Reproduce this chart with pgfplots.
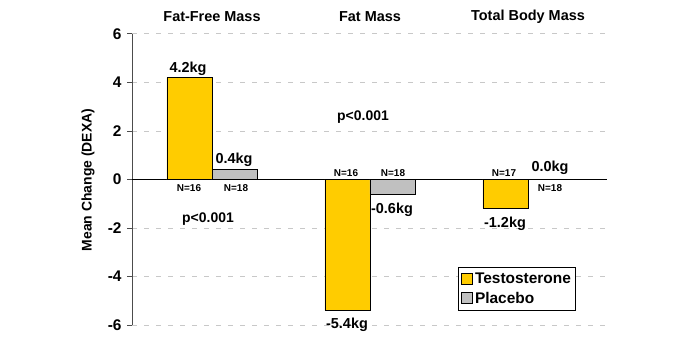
\documentclass[border=0pt]{standalone}
\usepackage{pgfplots}
\pgfplotsset{compat=1.18}
\usepackage{fontspec}
\setmainfont{Liberation Sans}
\definecolor{tyellow}{HTML}{FFCC00}
\definecolor{pgray}{HTML}{C0C0C0}
\definecolor{gridgray}{HTML}{C8C8C8}
\newcommand{\fs}[1]{\fontsize{#1}{#1}\selectfont\bfseries}
\begin{document}
\begin{tikzpicture}[x=1bp,y=1bp]
\path[use as bounding box] (0,0) rectangle (690,350);
\begin{axis}[
  at={(132bp,25bp)}, anchor=south west,
  scale only axis, width=475bp, height=291bp,
  xmin=-0.506, xmax=2.5, ymin=-6, ymax=6,
  axis y line*=left, axis x line=none,
  ytick={-6,-4,-2,2,4,6},
  extra y ticks={0},
  extra y tick style={grid style={solid, black, line width=0.9bp}},
  ymajorgrids,
  grid style={gridgray, dash pattern=on 5bp off 7bp, line width=1bp},
  tick align=outside, major tick length=5bp,
  y tick style={gray!60!black, line width=1bp},
  axis line style={gray!60!black, line width=1bp},
  yticklabel style={font=\fs{15.5}, xshift=-2bp},
  /pgf/number format/assume math mode=true,
  ybar, bar width=0.285, bar shift=0pt,
  legend style={at={(0.686,0.199)}, anchor=north west, draw=black, line width=0.8bp,
    font=\fs{15.5}, inner xsep=3bp, inner ysep=3.5bp, row sep=3bp, cells={anchor=west}},
  legend image code/.code={\draw[#1, draw=black, line width=0.8bp] (0bp,-5bp) rectangle (11bp,6bp);},
]
\addplot[fill=tyellow, draw=black, line width=0.8bp] coordinates {(-0.1425,4.2) (0.8575,-5.4) (1.8575,-1.2)};
\addplot[fill=pgray, draw=black, line width=0.8bp] coordinates {(0.1425,0.4) (1.1425,-0.6) (2.1425,0.0)};
\legend{Testosterone, Placebo}
\end{axis}
% titles
\node[font=\fs{14.5}] at (212,333) {Fat-Free Mass};
\node[font=\fs{14.5}] at (370,333) {Fat Mass};
\node[font=\fs{14.5}] at (528,333) {Total Body Mass};
% y label
\node[font=\fs{14}, rotate=90] at (88,170) {Mean Change (DEXA)};
% value labels
\node[font=\fs{14.5}, anchor=base, inner sep=0] at (188,278) {4.2kg};
\node[font=\fs{14.5}, anchor=base, inner sep=0] at (234,187) {0.4kg};
\node[font=\fs{14.5}, anchor=base, inner sep=0] at (347,22) {-5.4kg};
\node[font=\fs{14.5}, anchor=base, inner sep=0] at (392,137) {-0.6kg};
\node[font=\fs{14.5}, anchor=base, inner sep=0] at (505,123) {-1.2kg};
\node[font=\fs{14.5}, anchor=base, inner sep=0] at (550,179) {0.0kg};
% N labels
\node[font=\fs{10}, anchor=base, inner sep=0] at (189,159) {N=16};
\node[font=\fs{10}, anchor=base, inner sep=0] at (236,159) {N=18};
\node[font=\fs{10}, anchor=base, inner sep=0] at (346,174) {N=16};
\node[font=\fs{10}, anchor=base, inner sep=0] at (393,174) {N=18};
\node[font=\fs{10}, anchor=base, inner sep=0] at (504,174) {N=17};
\node[font=\fs{10}, anchor=base, inner sep=0] at (550,159) {N=18};
% p values
\node[font=\fs{14}, anchor=base, inner sep=0] at (208,128) {p<0.001};
\node[font=\fs{14}, anchor=base, inner sep=0] at (363,230) {p<0.001};
\end{tikzpicture}
\end{document}
